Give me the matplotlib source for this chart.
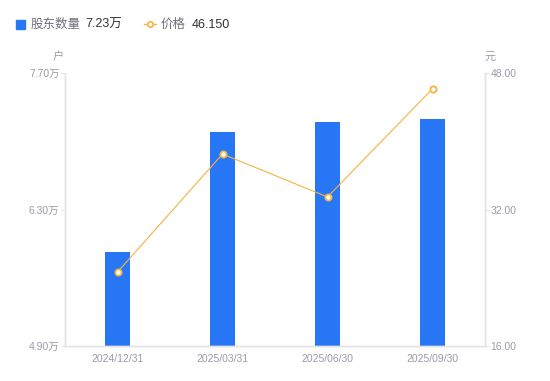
import matplotlib
matplotlib.use("Agg")
import matplotlib.pyplot as plt
from matplotlib.patches import Rectangle
from matplotlib.lines import Line2D

plt.rcParams['font.family'] = ['Liberation Sans', 'Noto Sans CJK SC', 'DejaVu Sans']

categories = ["2024/12/31", "2025/03/31", "2025/06/30", "2025/09/30"]
holders = [5.86, 7.10, 7.20, 7.23]   # 万户
price = [24.67, 38.50, 33.47, 46.15]  # 元
left_ticks = [4.90, 6.30, 7.70]
right_ticks = [16.00, 32.00, 48.00]

bar_color = "#2776F6"
line_color = "#F5B342"
tick_color = "#9A9BA8"
axis_color = "#E3E4E8"

fig = plt.figure(figsize=(5.5, 3.81), dpi=100)
ax = fig.add_axes([65/550, 1-346/381, 420/550, 273/381])
ax2 = ax.twinx()

x = list(range(len(categories)))
ax.bar(x, holders, width=0.24, color=bar_color, zorder=2)
ax.set_xlim(-0.5, 3.5)
ax.set_ylim(left_ticks[0], left_ticks[-1])
ax.set_yticks(left_ticks)
ax.set_yticklabels([f"{v:.2f}万" for v in left_ticks])
ax.set_xticks(x)
ax.set_xticklabels(categories)

ax2.plot(x, price, color=line_color, lw=0.8, marker='o', ms=4.5,
         mfc='white', mec=line_color, mew=1.3, zorder=3)
ax2.set_ylim(right_ticks[0], right_ticks[-1])
ax2.set_yticks(right_ticks)
ax2.set_yticklabels([f"{v:.2f}" for v in right_ticks])

for a in (ax, ax2):
    for s in a.spines.values():
        s.set_color(axis_color)
        s.set_linewidth(1)
    a.spines['top'].set_visible(False)
    a.tick_params(colors=tick_color, labelsize=7.5, length=3, width=0.8)
    a.tick_params(axis='y', color=axis_color, labelcolor=tick_color, pad=1)
    a.tick_params(axis='x', length=0, pad=6)

fig.text(58/550, 1-57/381, "户", color=tick_color, fontsize=8, ha='center', va='center')
fig.text(490/550, 1-57/381, "元", color=tick_color, fontsize=8, ha='center', va='center')

# legend
fig.patches.append(Rectangle((16/550, 1-29/381), 9/550, 9/381,
                   transform=fig.transFigure, color=bar_color, figure=fig))
fig.text(31/550, 1-24.5/381, "股东数量", color="#6E6F7A", fontsize=9, va='center')
fig.text(85/550, 1-24.5/381, "7.23万", color="#333333", fontsize=9, va='center')
fig.lines.append(Line2D([144/550, 150/550, 156/550], [1-24/381]*3,
                 transform=fig.transFigure, color=line_color, lw=1, marker='o', ms=4,
                 markevery=[1], mfc='white', mec=line_color, mew=1.2, figure=fig))
fig.text(161/550, 1-24.5/381, "价格", color="#6E6F7A", fontsize=9, va='center')
fig.text(192/550, 1-24.5/381, "46.150", color="#333333", fontsize=9, va='center')

fig.savefig("out.png", dpi=100)
